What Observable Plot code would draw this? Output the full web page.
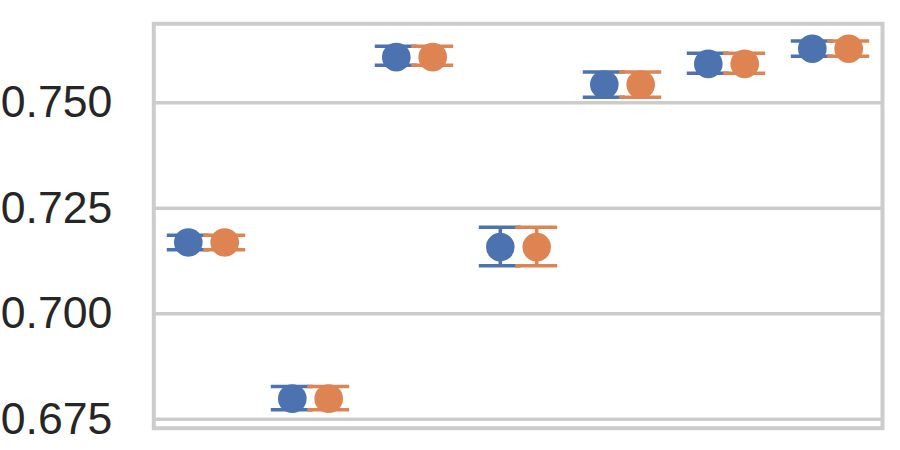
<!DOCTYPE html>
<html>
<head>
<meta charset="utf-8">
<script src="https://cdn.jsdelivr.net/npm/d3@7"></script>
<script src="https://cdn.jsdelivr.net/npm/@observablehq/plot@0.6"></script>
<style>
  html, body { margin: 0; padding: 0; background: #ffffff; }
  svg { display: block; }
</style>
</head>
<body>
<div id="chart"></div>
<script>
const categories = ["A", "B", "C", "D", "E", "F", "G"];
const seriesNames = ["series 1", "series 2"];
const seriesColors = ["#4c72b0", "#dd8452"];
const mean1 = [0.7169, 0.6799, 0.7608, 0.7158, 0.7543, 0.7592, 0.7628];
const low1  = [0.7152, 0.6773, 0.7589, 0.7114, 0.7513, 0.7570, 0.7610];
const high1 = [0.7186, 0.6828, 0.7634, 0.7205, 0.7573, 0.7617, 0.7646];
const mean2 = [0.7169, 0.6799, 0.7608, 0.7158, 0.7543, 0.7592, 0.7628];
const low2  = [0.7152, 0.6773, 0.7589, 0.7114, 0.7513, 0.7570, 0.7610];
const high2 = [0.7186, 0.6828, 0.7634, 0.7205, 0.7573, 0.7617, 0.7646];
const yTicks = [0.675, 0.700, 0.725, 0.750];
const yDomain = [0.6729, 0.7687];

const rows = [];
categories.forEach((c, i) => {
  rows.push({cat: c, series: seriesNames[0], mean: mean1[i], lo: low1[i], hi: high1[i]});
  rows.push({cat: c, series: seriesNames[1], mean: mean2[i], lo: low2[i], hi: high2[i]});
});

const off = 18.2;
const capInset = 31;
const marks = [
  Plot.ruleY(yTicks, {stroke: "#cccccc", strokeWidth: 3.5}),
  Plot.frame({stroke: "#cccccc", strokeWidth: 4}),
  Plot.axisY({ticks: yTicks, tickSize: 0, tickPadding: 41.5, tickFormat: d3.format(".3f"), fontSize: 44.6})
];
seriesNames.forEach((s, k) => {
  const d = rows.filter(r => r.series === s);
  const dx = k === 0 ? -off : off;
  const col = seriesColors[k];
  marks.push(Plot.ruleX(d, {x: "cat", y1: "lo", y2: "hi", stroke: col, strokeWidth: 3.5, dx}));
  marks.push(Plot.tickY(d, {x: "cat", y: "lo", stroke: col, strokeWidth: 3.5, dx, insetLeft: capInset, insetRight: capInset}));
  marks.push(Plot.tickY(d, {x: "cat", y: "hi", stroke: col, strokeWidth: 3.5, dx, insetLeft: capInset, insetRight: capInset}));
  marks.push(Plot.dot(d, {x: "cat", y: "mean", r: 14.3, fill: col, stroke: "none", dx}));
});

const chart = Plot.plot({
  width: 900,
  height: 450,
  marginLeft: 153.3,
  marginRight: 18,
  marginTop: 23.3,
  marginBottom: 22.3,
  style: {fontFamily: "'Liberation Sans', Arial, sans-serif", fontSize: "44.6px", color: "#262626", background: "#ffffff"},
  x: {type: "band", domain: categories, padding: 0, axis: null},
  y: {domain: yDomain, axis: null},
  marks
});
document.getElementById("chart").appendChild(chart);
</script>
</body>
</html>
